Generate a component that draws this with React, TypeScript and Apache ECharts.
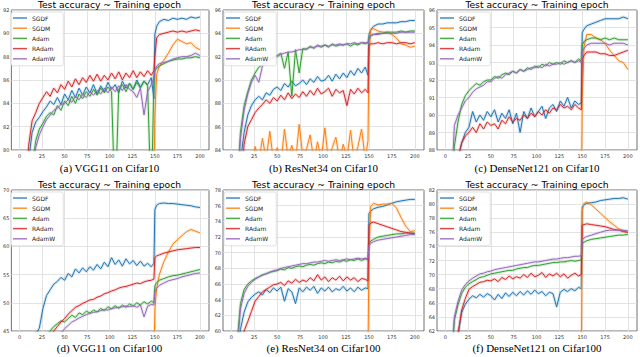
import React, { useEffect, useRef } from 'react';
import * as echarts from 'echarts';

// ---------- data ----------
const EPOCHS = [1, 6, 10, 14, 18, 22, 26, 30, 34, 38, 42, 46, 50, 54, 58, 62, 66, 70, 74, 78, 82, 86, 90, 94, 98, 102, 106, 110, 114, 118, 122, 126, 130, 134, 138, 142, 146, 149, 150, 152, 155, 160, 165, 170, 175, 180, 185, 190, 195, 200];
const NAMES = ['SGDF', 'SGDM', 'Adam', 'RAdam', 'AdamW'];
const X_TICKS = [0, 25, 50, 75, 100, 125, 150, 175, 200];
const TITLE = 'Test accuracy ~ Training epoch';
const CAPTIONS = ['(a) VGG11 on Cifar10', '(b) ResNet34 on Cifar10', '(c) DenseNet121 on Cifar10', '(d) VGG11 on Cifar100', '(e) ResNet34 on Cifar100', '(f) DenseNet121 on Cifar100'];
const Y_RANGES = [[80, 92, 2], [84, 96, 2], [88, 96, 1], [45, 70, 5], [60, 78, 2], [62, 82, 2]];

// (a) VGG11 on Cifar10
const A_SGDF = [60, 72, 79, 81.5, 82.4, 82.8, 83.3, 83.7, 84.2, 83.9, 84.5, 83.9, 84.8, 84.3, 85.1, 84.5, 85.3, 84.7, 85.4, 84.9, 85.6, 84.8, 85.5, 85.0, 85.8, 85.2, 85.6, 84.9, 85.9, 85.3, 85.7, 85.2, 86.0, 85.4, 85.9, 85.6, 86.2, 84.4, 89.9, 90.6, 91.0, 91.2, 91.1, 91.3, 91.2, 91.3, 91.2, 91.4, 91.3, 91.4];
const A_SGDM = [50, 60, 65, 68, 70, 72, 73, 74, 74, 75, 75, 76, 75, 76, 77, 76, 77, 76, 78, 77, 77, 78, 77, 78, 77, 78, 77, 78, 77, 78, 78, 77, 78, 77, 78, 77, 78, 77, 83, 86.5, 87.2, 87.7, 88.3, 89.0, 89.5, 89.3, 89.1, 89.2, 88.8, 88.6];
const A_ADAM = [60, 70, 76, 78.5, 80.8, 81.8, 82.3, 82.9, 83.2, 83.0, 83.8, 83.4, 84.2, 83.8, 84.6, 84.0, 84.8, 84.4, 85.0, 84.6, 85.2, 84.7, 85.3, 84.9, 85.4, 85.0, 75, 85.2, 85.6, 85.0, 85.7, 85.2, 85.8, 85.3, 85.9, 85.5, 75, 86.3, 86.8, 87.0, 87.2, 87.4, 87.6, 87.7, 87.8, 87.8, 87.9, 87.9, 88.0, 87.9];
const A_RADAM = [65, 74, 80.3, 82.5, 83.2, 84.0, 84.5, 85.0, 84.6, 85.3, 84.9, 85.6, 85.2, 85.9, 85.4, 86.1, 85.6, 86.2, 85.8, 86.4, 85.9, 86.5, 85.9, 86.4, 86.0, 86.6, 86.1, 86.7, 86.0, 86.6, 86.2, 86.8, 86.2, 86.7, 86.3, 86.8, 86.4, 86.8, 88.0, 89.6, 89.9, 90.0, 90.1, 90.2, 90.1, 90.2, 90.1, 90.2, 90.3, 90.2];
const A_ADAMW = [60, 70, 76, 78, 80.2, 81.3, 82.0, 82.6, 83.0, 83.4, 83.6, 83.9, 84.0, 84.3, 84.1, 84.6, 84.3, 84.8, 84.5, 85.0, 84.7, 85.1, 84.8, 85.3, 84.9, 85.4, 85.0, 85.5, 85.1, 85.6, 85.2, 85.0, 84.5, 85.3, 83.0, 85.0, 85.6, 86.2, 86.8, 87.2, 87.4, 87.5, 87.6, 87.8, 87.9, 88.0, 88.0, 88.1, 88.3, 88.1];

// (b) ResNet34 on Cifar10
const B_SGDF = [60, 75, 83, 85.5, 87.0, 87.8, 88.3, 88.6, 88.3, 88.9, 88.7, 89.2, 89.4, 89.1, 89.7, 89.4, 89.9, 89.5, 89.7, 90.0, 89.6, 90.1, 89.8, 90.3, 89.9, 90.0, 90.4, 89.9, 90.5, 90.1, 90.6, 90.2, 90.8, 90.4, 91.0, 90.6, 91.1, 90.4, 93.9, 94.3, 94.6, 94.8, 94.8, 94.9, 94.9, 94.9, 95.0, 95.0, 95.1, 95.1];
const B_SGDM = [60, 70, 78, 80, 81.5, 82.5, 84.3, 83.0, 85.0, 83.2, 85.6, 83.0, 84.2, 82.8, 85.8, 83.3, 84.4, 83.0, 86.2, 83.4, 84.1, 85.3, 83.0, 84.7, 83.2, 85.9, 83.0, 84.2, 85.1, 83.1, 84.5, 83.3, 85.7, 83.0, 84.3, 85.8, 83.2, 84.8, 92.0, 94.3, 94.4, 94.2, 94.1, 94.1, 93.9, 93.6, 93.1, 93.0, 92.8, 92.9];
const B_ADAM = [70, 80, 85.5, 87.8, 89.0, 90.0, 90.6, 91.1, 91.3, 91.6, 91.8, 92.0, 92.1, 92.3, 91.0, 92.4, 88.6, 92.6, 90.6, 92.7, 92.6, 92.9, 92.7, 93.0, 92.8, 93.0, 92.8, 93.1, 92.9, 93.0, 93.0, 93.1, 92.9, 93.1, 93.0, 93.2, 93.1, 93.2, 93.6, 93.8, 93.9, 94.0, 94.0, 94.1, 94.1, 94.1, 94.2, 94.1, 94.2, 94.2];
const B_RADAM = [60, 72, 80, 84.5, 86.0, 86.6, 87.2, 87.6, 87.9, 88.3, 88.0, 88.5, 88.2, 88.7, 88.3, 88.9, 88.4, 88.8, 88.5, 89.0, 88.6, 89.1, 88.7, 89.3, 88.8, 89.0, 89.3, 88.6, 89.2, 88.9, 89.1, 87.8, 89.2, 88.8, 89.3, 88.9, 89.2, 88.9, 93.0, 93.1, 93.1, 93.2, 93.1, 93.2, 93.2, 93.1, 93.2, 93.2, 93.1, 93.2];
const B_ADAMW = [70, 80, 85.0, 87.4, 88.8, 89.8, 90.4, 89.8, 91.2, 91.5, 91.7, 91.9, 92.0, 92.2, 92.3, 92.4, 92.4, 92.5, 92.6, 92.6, 92.7, 92.8, 92.8, 92.9, 92.9, 93.0, 92.9, 93.0, 93.0, 93.1, 93.0, 93.1, 93.1, 93.2, 93.1, 93.2, 93.2, 93.2, 93.5, 93.8, 93.9, 93.9, 94.0, 94.0, 94.0, 94.0, 94.1, 94.1, 94.1, 94.1];

// (c) DenseNet121 on Cifar10
const C_SGDF = [70, 80, 85, 87.5, 88.4, 89.0, 89.3, 90.2, 89.6, 90.0, 89.7, 90.2, 89.9, 90.3, 89.6, 90.1, 89.8, 90.3, 89.5, 90.1, 89.0, 90.2, 89.8, 90.4, 89.9, 90.2, 90.5, 89.8, 90.4, 90.6, 90.2, 90.8, 90.5, 91.0, 90.4, 90.8, 90.6, 90.7, 94.7, 94.9, 95.1, 95.2, 95.3, 95.4, 95.5, 95.5, 95.5, 95.5, 95.6, 95.5];
const C_SGDM = [60, 70, 75, 78, 80, 81, 82, 83, 83, 84, 84, 84, 85, 84, 85, 85, 84, 85, 85, 85, 85, 85, 84, 85, 85, 85, 85, 84, 85, 85, 85, 85, 84, 85, 85, 85, 85, 85, 91.0, 93.9, 94.6, 94.6, 94.4, 94.3, 94.1, 93.7, 93.4, 93.1, 93.0, 92.6];
const C_ADAM = [75, 83, 88.2, 89.6, 90.6, 91.1, 91.4, 91.6, 91.8, 91.7, 91.9, 92.0, 92.0, 92.2, 92.1, 92.3, 92.4, 92.3, 92.5, 92.4, 92.6, 92.5, 92.7, 92.6, 92.8, 92.7, 92.9, 92.8, 93.0, 92.9, 93.0, 92.9, 93.1, 93.0, 93.1, 93.0, 93.2, 93.1, 94.0, 94.2, 94.3, 94.4, 94.4, 94.3, 94.4, 94.3, 94.4, 94.3, 94.3, 94.3];
const C_RADAM = [70, 80, 85, 87.5, 88.4, 88.8, 89.0, 89.3, 89.0, 89.5, 89.2, 89.6, 89.4, 89.5, 89.2, 89.7, 89.5, 89.9, 89.6, 89.8, 89.7, 90.0, 89.8, 90.1, 89.9, 90.2, 90.0, 90.3, 90.1, 90.4, 90.3, 90.6, 90.4, 90.5, 90.3, 90.6, 90.4, 90.3, 93.2, 93.4, 93.6, 93.6, 93.6, 93.5, 93.5, 93.4, 93.4, 93.5, 93.6, 93.7];
const C_ADAMW = [78, 85, 89.4, 90.0, 90.4, 90.8, 91.0, 91.3, 91.5, 91.6, 91.7, 91.9, 91.9, 92.1, 92.2, 92.1, 92.3, 92.4, 92.5, 92.4, 92.6, 92.5, 92.6, 92.7, 92.7, 92.8, 92.7, 92.9, 92.8, 92.9, 92.9, 93.0, 92.9, 93.0, 93.1, 93.0, 93.1, 93.0, 93.6, 93.8, 94.0, 94.1, 94.1, 94.1, 94.1, 94.0, 94.1, 94.1, 94.1, 94.0];

// (d) VGG11 on Cifar100
const D_SGDF = [20, 30, 38, 42, 44.5, 45.5, 49.0, 51.3, 52.3, 53.3, 53.8, 54.5, 54.0, 55.2, 54.6, 56.0, 55.3, 56.2, 55.5, 56.4, 55.8, 56.8, 56.0, 57.2, 56.4, 58.0, 56.8, 57.6, 56.5, 57.8, 56.9, 57.5, 56.6, 57.4, 56.5, 57.0, 56.4, 57.0, 66.5, 67.3, 67.6, 67.7, 67.6, 67.6, 67.5, 67.4, 67.3, 67.2, 67.0, 66.9];
const D_SGDM = [20, 25, 28, 30, 31, 32, 33, 34, 34, 35, 35, 36, 36, 37, 37, 37, 38, 38, 38, 38, 39, 39, 39, 39, 39, 40, 40, 40, 40, 40, 40, 40, 40, 40, 40, 40, 40, 40, 49, 52.5, 55.0, 57.3, 59.0, 60.4, 61.2, 61.9, 62.6, 63.0, 62.7, 62.4];
const D_ADAM = [20, 30, 35, 38, 40, 42, 43, 44, 45.0, 45.8, 46.3, 46.8, 46.6, 47.2, 47.8, 47.4, 48.2, 47.9, 48.5, 48.2, 48.7, 48.4, 49.0, 48.6, 49.3, 48.9, 49.5, 49.0, 49.6, 49.2, 49.8, 49.4, 50.0, 49.6, 50.2, 49.8, 50.3, 50.0, 53.0, 53.6, 54.0, 54.3, 54.6, 54.8, 54.9, 55.1, 55.3, 55.5, 55.7, 55.9];
const D_RADAM = [20, 30, 35, 38, 40, 41, 42, 43, 44, 45.0, 45.8, 46.6, 47.2, 48.0, 48.6, 49.2, 49.5, 49.9, 50.2, 50.5, 50.6, 51.0, 51.2, 51.6, 51.8, 52.1, 52.3, 52.6, 52.8, 52.9, 53.1, 53.3, 53.5, 53.4, 53.7, 53.9, 54.0, 54.2, 58.0, 58.3, 58.5, 58.8, 59.0, 59.2, 59.4, 59.5, 59.6, 59.7, 59.8, 59.8];
const D_ADAMW = [20, 30, 35, 37, 39, 40, 41, 42, 43, 43.5, 44.0, 44.6, 45.4, 46.0, 46.6, 46.9, 47.3, 47.6, 47.9, 48.1, 48.3, 48.4, 48.6, 48.8, 48.7, 49.0, 49.1, 49.2, 49.3, 49.4, 49.3, 49.5, 49.2, 49.6, 47.5, 49.4, 49.7, 49.6, 52.0, 52.6, 53.1, 53.5, 53.9, 54.1, 54.3, 54.6, 54.8, 55.0, 55.2, 55.3];

// (e) ResNet34 on Cifar100
const E_SGDF = [40, 50, 60.2, 62.4, 63.7, 64.3, 64.7, 65.0, 64.6, 65.3, 64.9, 65.5, 65.1, 65.6, 63.8, 65.4, 65.0, 63.5, 65.5, 65.0, 65.6, 65.2, 65.7, 64.8, 65.5, 65.1, 65.6, 65.0, 65.4, 65.2, 65.7, 65.1, 65.5, 65.0, 65.6, 65.2, 65.5, 65.4, 75.0, 75.3, 75.6, 75.8, 75.9, 76.1, 76.3, 76.5, 76.6, 76.7, 76.8, 76.8];
const E_SGDM = [40, 45, 48, 50, 51, 52, 53, 54, 54, 55, 55, 55, 56, 56, 56, 56, 57, 57, 57, 57, 57, 57, 57, 57, 57, 57, 57, 57, 57, 57, 57, 57, 57, 57, 57, 57, 57, 57, 70, 75.9, 76.3, 76.1, 76.2, 76.2, 76.3, 75.7, 74.5, 73.4, 72.7, 72.8];
const E_ADAM = [45, 58, 63.5, 65.3, 66.0, 66.4, 66.7, 66.9, 67.2, 67.3, 67.5, 67.6, 67.7, 67.9, 67.8, 68.1, 68.0, 68.2, 68.3, 68.2, 68.4, 68.5, 68.4, 68.6, 68.7, 68.6, 68.8, 68.7, 68.9, 68.8, 69.0, 68.9, 69.1, 69.0, 69.2, 69.0, 69.2, 69.1, 71.1, 71.5, 71.7, 72.0, 72.1, 72.2, 72.3, 72.4, 72.4, 72.5, 72.5, 72.5];
const E_RADAM = [40, 50, 56, 60.0, 61.2, 62.5, 63.8, 64.4, 65.0, 65.3, 65.6, 65.9, 66.0, 66.2, 65.8, 66.4, 66.1, 66.6, 66.2, 66.5, 66.3, 66.8, 66.4, 67.2, 66.5, 66.9, 66.3, 66.8, 66.5, 67.0, 66.4, 66.9, 66.5, 66.8, 66.3, 66.7, 66.6, 66.4, 73.5, 73.8, 73.9, 73.7, 73.5, 73.3, 73.1, 72.9, 72.7, 72.6, 72.5, 72.4];
const E_ADAMW = [45, 57, 62.8, 64.8, 65.7, 66.2, 66.6, 66.9, 67.1, 67.3, 67.5, 67.7, 67.8, 68.0, 68.1, 68.2, 68.3, 68.4, 68.5, 68.6, 68.6, 68.7, 68.8, 68.8, 68.9, 69.0, 68.9, 69.0, 69.1, 69.0, 69.1, 69.2, 69.1, 69.2, 69.3, 69.2, 69.3, 69.2, 70.9, 71.2, 71.4, 71.6, 71.7, 71.8, 71.9, 72.0, 72.1, 72.2, 72.3, 72.3];

// (f) DenseNet121 on Cifar100
const F_SGDF = [40, 50, 56, 61.5, 64.6, 65.8, 66.5, 67.0, 66.7, 67.2, 66.8, 67.3, 67.0, 66.4, 67.2, 66.6, 67.4, 66.9, 67.5, 67.0, 67.6, 67.1, 67.7, 67.2, 67.8, 67.3, 67.6, 67.0, 67.5, 67.3, 65.4, 67.5, 67.9, 67.6, 68.0, 67.7, 68.2, 68.0, 79.6, 79.9, 80.1, 80.2, 80.3, 80.5, 80.6, 80.7, 80.8, 80.8, 80.9, 80.7];
const F_SGDM = [40, 45, 48, 50, 51, 52, 53, 54, 54, 55, 55, 55, 56, 56, 56, 56, 57, 57, 57, 57, 57, 57, 57, 57, 57, 57, 57, 57, 57, 57, 57, 57, 57, 57, 57, 57, 57, 57, 79.0, 80.1, 80.3, 79.9, 79.3, 78.7, 78.1, 77.5, 77.0, 76.5, 76.2, 76.0];
const F_ADAM = [45, 55, 63.5, 65.7, 67.3, 68.2, 68.7, 69.0, 69.3, 69.6, 69.7, 69.9, 70.1, 70.2, 70.3, 70.4, 70.5, 70.6, 70.6, 70.8, 70.9, 71.0, 71.0, 71.2, 71.3, 71.3, 71.4, 71.5, 71.6, 71.7, 71.7, 71.8, 71.8, 71.9, 72.0, 71.9, 72.0, 72.1, 74.4, 74.6, 74.8, 75.0, 75.1, 75.2, 75.3, 75.4, 75.5, 75.6, 75.6, 75.7];
const F_RADAM = [40, 50, 56, 61.5, 65.0, 66.6, 67.9, 68.3, 68.6, 68.9, 69.0, 69.2, 69.1, 69.4, 69.0, 69.6, 69.3, 69.8, 69.4, 69.7, 69.5, 70.0, 69.6, 70.2, 69.7, 69.9, 70.3, 69.6, 70.1, 69.8, 70.2, 69.7, 70.1, 69.5, 69.9, 70.2, 69.8, 70.0, 77.0, 77.1, 77.2, 77.1, 77.0, 76.9, 76.8, 76.6, 76.4, 76.3, 76.1, 76.0];
const F_ADAMW = [45, 56, 64.0, 66.2, 67.8, 68.6, 69.1, 69.5, 69.8, 70.1, 70.2, 70.4, 70.5, 70.7, 70.8, 70.9, 71.0, 71.1, 71.2, 71.3, 71.4, 71.5, 71.6, 71.7, 71.8, 71.8, 71.9, 72.0, 72.1, 72.2, 72.2, 72.3, 72.4, 72.4, 72.5, 72.6, 72.6, 72.7, 74.9, 75.2, 75.4, 75.6, 75.8, 76.0, 76.2, 76.3, 76.3, 76.3, 76.3, 76.2];

const PANEL_SERIES = [
  [A_SGDF, A_SGDM, A_ADAM, A_RADAM, A_ADAMW],
  [B_SGDF, B_SGDM, B_ADAM, B_RADAM, B_ADAMW],
  [C_SGDF, C_SGDM, C_ADAM, C_RADAM, C_ADAMW],
  [D_SGDF, D_SGDM, D_ADAM, D_RADAM, D_ADAMW],
  [E_SGDF, E_SGDM, E_ADAM, E_RADAM, E_ADAMW],
  [F_SGDF, F_SGDM, F_ADAM, F_RADAM, F_ADAMW],
];

// ---------- layout & style ----------
const COLORS = ['#1f77b4', '#ff7f0e', '#2ca02c', '#d62728', '#9467bd'];
const BOXES = [
  { left: 10, top: 10, width: 199, height: 140 },
  { left: 223, top: 10, width: 201, height: 140 },
  { left: 437, top: 10, width: 200, height: 140 },
  { left: 10, top: 190, width: 199, height: 141 },
  { left: 223, top: 190, width: 201, height: 141 },
  { left: 437, top: 190, width: 200, height: 141 },
];
const TITLE_Y = [4, 184];
const CAPTION_Y = [168, 348];

export default function App() {
  const ref = useRef<HTMLDivElement>(null);
  useEffect(() => {
    document.body.style.margin = '0';
    if (!ref.current) return;
    const chart = echarts.init(ref.current, undefined, { renderer: 'svg' });

    const grid: any[] = [];
    const xAxis: any[] = [];
    const yAxis: any[] = [];
    const series: any[] = [];
    const legend: any[] = [];
    const graphic: any[] = [];

    BOXES.forEach((b, p) => {
      grid.push({ ...b, show: true, borderColor: '#4d4d4d', borderWidth: 0.8, backgroundColor: '#fff' });
      xAxis.push({
        type: 'value', gridIndex: p, min: -9, max: 210,
        axisLine: { show: false },
        axisTick: { show: true, length: 0, customValues: X_TICKS },
        axisLabel: { customValues: X_TICKS, fontSize: 5, color: '#333', margin: 3, fontFamily: 'DejaVu Sans' },
        splitLine: { show: true, lineStyle: { color: '#dcdcdc', width: 0.8 } },
      });
      const [mn, mx, st] = Y_RANGES[p];
      yAxis.push({
        type: 'value', gridIndex: p, min: mn, max: mx, interval: st,
        axisLine: { show: false }, axisTick: { show: false },
        axisLabel: { fontSize: 5, color: '#333', margin: 2, fontFamily: 'DejaVu Sans' },
        splitLine: { show: true, lineStyle: { color: '#dcdcdc', width: 0.8 } },
      });
      PANEL_SERIES[p].forEach((vals, k) => {
        const data = EPOCHS.map((e, j) => [e, vals[j]]);
        series.push({
          type: 'line', name: NAMES[k] + ' band', xAxisIndex: p, yAxisIndex: p, data,
          symbol: 'none', silent: true, clip: true,
          lineStyle: { color: COLORS[k], width: 3, opacity: 0.18 },
        });
        series.push({
          type: 'line', name: NAMES[k], xAxisIndex: p, yAxisIndex: p, data,
          symbol: 'none', clip: true, color: COLORS[k],
          lineStyle: { color: COLORS[k], width: 1 },
        });
      });
      legend.push({
        data: NAMES.map((n, k) => ({ name: n, icon: 'rect', itemStyle: { color: COLORS[k], opacity: 0.85 } })),
        orient: 'vertical', left: b.left + 1, top: b.top + 2,
        itemWidth: 14, itemHeight: 1.5, itemGap: 2.2, itemTextGap: 6,
        padding: [2, 8, 3, 2], borderColor: '#cccccc', borderWidth: 0.6, borderRadius: 2,
        backgroundColor: 'rgba(255,255,255,0.9)',
        textStyle: { fontSize: 6, lineHeight: 8, color: '#222', fontFamily: 'DejaVu Sans' },
        selectedMode: false,
      });
      const row = p < 3 ? 0 : 1;
      const cx = b.left + b.width / 2;
      graphic.push({
        type: 'text', x: cx, y: TITLE_Y[row],
        style: { text: TITLE, fontSize: 9.2, fontFamily: 'DejaVu Sans', fill: '#000', textAlign: 'center', textVerticalAlign: 'middle' },
      });
      graphic.push({
        type: 'text', x: cx, y: CAPTION_Y[row],
        style: { text: CAPTIONS[p], fontSize: 11, fontFamily: 'Liberation Serif', fill: '#000', textAlign: 'center', textVerticalAlign: 'middle' },
      });
    });

    chart.setOption({
      animation: false,
      backgroundColor: '#fff',
      grid, xAxis, yAxis, series, legend, graphic,
    });
    return () => chart.dispose();
  }, []);
  return <div ref={ref} style={{ width: 640, height: 357 }} />;
}
